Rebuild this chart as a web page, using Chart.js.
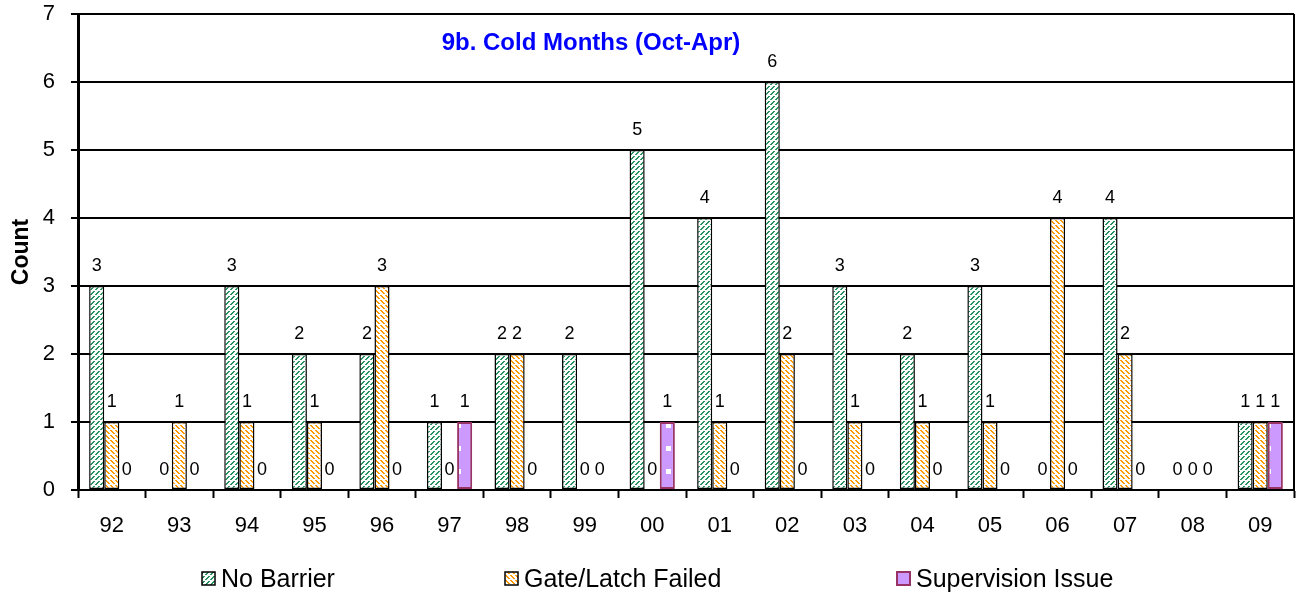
<!DOCTYPE html>
<html>
<head>
<meta charset="utf-8">
<script src="https://cdn.jsdelivr.net/npm/chart.js@4"></script>
<style>
  html, body { margin: 0; padding: 0; background: #fff; }
  canvas { display: block; }
</style>
</head>
<body>
<canvas id="chart" width="1296" height="592"></canvas>
<script>
// data
const years = ['92','93','94','95','96','97','98','99','00','01','02','03','04','05','06','07','08','09'];
const noBarrier   = [3,0,3,2,2,1,2,2,5,4,6,3,2,3,0,4,0,1];
const gateLatch   = [1,1,1,1,3,0,2,0,0,1,2,1,1,1,4,2,0,1];
const supervision = [0,0,0,0,0,1,0,0,1,0,0,0,0,0,0,0,0,1];
const seriesNames = ['No Barrier', 'Gate/Latch Failed', 'Supervision Issue'];
const yTicks = [0,1,2,3,4,5,6,7];

const FONT = '"Liberation Sans", Arial, sans-serif';

// hatch patterns (excel style dashed diagonals)
function hatch(color, dir) {
  const n = 5;
  const c = document.createElement('canvas');
  c.width = n; c.height = n;
  const g = c.getContext('2d');
  g.fillStyle = '#fff';
  g.fillRect(0, 0, n, n);
  g.fillStyle = color;
  for (let i = 0; i < n - 1; i++) {
    const y = dir > 0 ? n - 1 - i : i;
    g.fillRect(i, y, 1, 1);
    g.fillRect((i + 1) % n, y, 1, 1);
  }
  return g.createPattern(c, 'repeat');
}
function dots() {
  const c = document.createElement('canvas');
  c.width = 15; c.height = 23;
  const g = c.getContext('2d');
  g.fillStyle = '#cc99ff';
  g.fillRect(0, 0, 15, 23);
  g.fillStyle = '#fff';
  g.fillRect(6, 9, 5, 5);
  return g.createPattern(c, 'repeat');
}
const greenFill = hatch('#2a9460', 1);
const orangeFill = hatch('#ff9900', -1);
const purpleFill = dots();

// value labels on top of the bars
const valueLabels = {
  id: 'valueLabels',
  afterDatasetsDraw(chart) {
    const ctx = chart.ctx;
    ctx.save();
    ctx.font = '18px ' + FONT;
    ctx.fillStyle = '#000';
    ctx.textAlign = 'center';
    ctx.textBaseline = 'middle';
    chart.data.datasets.forEach((ds, i) => {
      chart.getDatasetMeta(i).data.forEach((el, j) => {
        ctx.fillText(String(ds.data[j]), el.x, el.y - 20);
      });
    });
    ctx.restore();
  }
};

// title inside plot, right border, legend at the bottom
const decorations = {
  id: 'decorations',
  afterDraw(chart) {
    const ctx = chart.ctx;
    const a = chart.chartArea;
    ctx.save();
    ctx.strokeStyle = '#000';
    ctx.lineWidth = 2;
    ctx.beginPath();
    ctx.moveTo(a.right, a.top);
    ctx.lineTo(a.right, a.bottom);
    ctx.stroke();

    ctx.font = 'bold 24px ' + FONT;
    ctx.fillStyle = '#0000ff';
    ctx.textAlign = 'center';
    ctx.textBaseline = 'middle';
    ctx.fillText('9b. Cold Months (Oct-Apr)', 591, 43);

    const boxX = [202, 505, 897];
    ctx.font = '25px ' + FONT;
    ctx.textAlign = 'left';
    chart.data.datasets.forEach((ds, i) => {
      const x = boxX[i], y = 572;
      ctx.fillStyle = ds.backgroundColor;
      ctx.fillRect(x, y, 13, 13);
      ctx.strokeStyle = ds.borderColor;
      ctx.lineWidth = i === 2 ? 2 : 1.5;
      ctx.strokeRect(x, y, 13, 13);
      ctx.fillStyle = '#000';
      ctx.fillText(ds.label, x + 19, y + 8);
    });
    ctx.restore();
  }
};

const ctx = document.getElementById('chart').getContext('2d');
new Chart(ctx, {
  type: 'bar',
  data: {
    labels: years,
    datasets: [
      { label: seriesNames[0], data: noBarrier, backgroundColor: greenFill, borderColor: '#000', borderWidth: 1.5 },
      { label: seriesNames[1], data: gateLatch, backgroundColor: orangeFill, borderColor: '#000', borderWidth: 1.5 },
      { label: seriesNames[2], data: supervision, backgroundColor: purpleFill, borderColor: '#993366', borderWidth: 2 }
    ]
  },
  options: {
    responsive: false,
    devicePixelRatio: 1,
    animation: false,
    layout: { autoPadding: false, padding: { top: 14, right: 2, bottom: 37.6, left: 0 } },
    plugins: {
      legend: { display: false },
      tooltip: { enabled: false }
    },
    datasets: {
      bar: { categoryPercentage: 0.67, barPercentage: 1.0, borderSkipped: false }
    },
    scales: {
      x: {
        grid: { display: true, drawOnChartArea: false, offset: true, tickLength: 8, tickColor: '#000', tickWidth: 2 },
        border: { color: '#000', width: 2 },
        ticks: { color: '#000', padding: 15, font: { family: FONT, size: 22 } }
      },
      y: {
        min: 0,
        max: 7,
        afterBuildTicks(scale) { scale.ticks = yTicks.map(v => ({ value: v })); },
        afterFit(scale) {
          scale.width = 78;
          scale.paddingTop = 0;
          scale.paddingBottom = 0;
        },
        grid: { color: '#000', lineWidth: 2, tickLength: 7, tickColor: '#000' },
        border: { color: '#000', width: 3 },
        ticks: { color: '#000', padding: 16, font: { family: FONT, size: 22 } },
        title: { display: true, text: 'Count', color: '#000', padding: { top: 8, bottom: 0 }, font: { family: FONT, size: 23, weight: 'bold' } }
      }
    }
  },
  plugins: [valueLabels, decorations]
});
</script>
</body>
</html>
